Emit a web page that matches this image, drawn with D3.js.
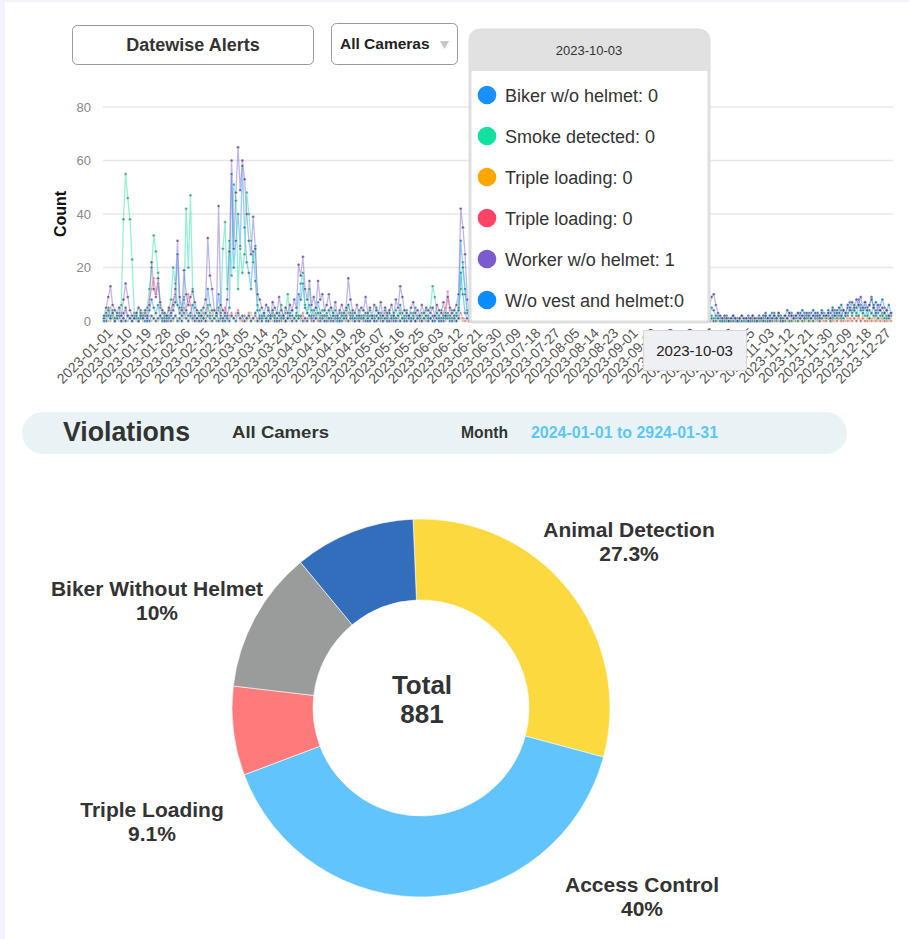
<!DOCTYPE html>
<html>
<head>
<meta charset="utf-8">
<script src="https://cdn.jsdelivr.net/npm/d3@7"></script>
<style>
  body { margin: 0; background: #fff; font-family: "Liberation Sans", Arial, sans-serif; }
</style>
</head>
<body>
<div id="chart"></div>
<script>
var width = 909;
var height = 939;

// ---- line chart data: one value per day of 2023, grouped by month ----
var seriesNames = ['Biker w/o helmet', 'Smoke detected', 'Triple loading', 'Triple loading', 'Worker w/o helmet', 'W/o vest and helmet'];
var seriesColors = ['#1890ff', '#13dfa0', '#ffa600', '#ff4466', '#7b5ccf', '#0a8cff'];

var biker = [
  [0,2,4,1,3,0,1,2,0,3,5,2,1,0,2,1,0,3,1,2,0,4,8,5,3,6,2,1,0,2,1],
  [2,4,7,25,5,2,8,4,2,3,6,2,1,0,2,1,3,12,6,4,1,2,10,3,1,0,2,5],
  [55,20,30,40,28,58,35,22,18,12,26,15,4,2,1,3,0,2,1,4,2,0,3,1,2,0,1,3,2,1,2],
  [10,8,14,5,3,6,2,4,1,7,3,2,0,2,4,1,0,2,1,0,3,1,2,6,3,1,0,2,1,2],
  [1,3,0,2,1,0,2,1,3,0,1,2,0,1,3,0,2,6,3,1,0,2,1,3,0,1,2,0,1,2,1],
  [1,2,0,3,1,0,2,1,3,2,0,1,2,4,30,20,12,3,1,0,2,1,0,1,2,0,1,0,2,1],
  [0,1,0,2,1,0,1,0,2,1,0,1,0,0,2,1,0,1,0,1,2,0,1,0,1,0,2,1,0,1,0],
  [1,0,1,0,2,0,1,0,1,2,0,1,0,1,0,1,2,0,1,0,1,0,2,1,0,1,0,1,0,2,0],
  [0,1,0,2,1,0,1,0,1,0,2,1,0,1,0,1,0,2,0,1,0,1,0,1,2,0,1,0,1,0],
  [1,0,0,1,2,1,3,2,5,4,2,1,0,1,0,1,0,0,1,0,1,0,0,1,0,1,0,0,1,0,1],
  [1,2,1,0,2,1,3,1,2,0,1,2,1,3,2,1,2,1,3,2,1,2,3,1,2,1,3,2,1,2],
  [2,3,1,2,4,2,3,1,4,2,3,5,3,4,2,6,4,3,5,2,4,3,6,2,3,4,2,3,1,2,3]
];
var smoke = [
  [1,3,5,2,4,1,2,3,6,38,55,46,38,23,3,2,1,4,2,3,5,12,20,32,26,18,5,3,2,1,4],
  [8,20,14,6,3,5,9,42,20,47,12,5,3,2,4,1,3,6,2,4,1,3,5,2,27,37,12,30],
  [17,51,45,12,27,18,25,48,40,30,22,28,6,4,2,3,1,5,2,4,1,3,2,6,1,3,10,2,4,1,3],
  [2,14,18,6,3,12,4,2,5,3,1,4,2,3,1,5,2,4,1,3,2,1,4,6,2,3,1,2,4,1],
  [1,3,2,4,1,2,5,3,1,2,4,1,3,2,1,4,2,3,1,2,4,1,3,2,5,1,2,3,1,4,2],
  [5,13,9,3,2,4,1,3,2,1,4,2,3,5,12,22,10,4,2,1,3,2,1,2,3,1,2,1,3,2],
  [1,0,2,1,0,1,3,1,0,2,1,0,1,2,0,1,0,2,1,0,1,2,1,0,1,0,2,1,0,1,2],
  [0,1,2,0,1,0,1,3,1,0,2,1,0,1,0,2,1,0,1,2,0,1,0,1,2,1,0,1,0,2,1],
  [1,0,1,2,0,1,0,2,1,0,1,0,1,2,0,1,0,1,2,1,0,1,0,2,1,0,1,0,1,0],
  [1,0,0,1,0,2,1,3,2,1,0,1,0,0,1,0,1,0,0,1,0,1,0,0,1,0,0,1,0,1,0],
  [0,1,0,0,1,0,1,0,2,0,1,0,1,0,0,2,1,0,1,0,2,1,0,1,0,2,1,0,1,2],
  [1,2,0,1,3,1,2,4,1,3,2,5,2,4,3,2,5,3,2,4,1,3,2,4,1,2,3,1,2,1,2]
];
var tripleA = [
  [0,1,0,0,2,0,1,0,0,1,0,0,2,0,1,0,0,1,0,0,1,2,0,1,3,0,1,0,0,1,0],
  [1,0,2,1,0,0,1,3,0,1,0,2,0,0,1,0,1,0,0,2,1,0,1,0,0,2,0,1],
  [2,1,3,2,0,1,2,0,1,3,1,0,1,0,0,1,0,2,0,0,1,0,1,0,0,1,0,0,2,0,1],
  [1,0,2,1,0,1,0,0,1,0,2,0,1,0,0,1,0,1,0,0,2,0,1,0,0,1,0,1,0,0],
  [0,1,0,0,1,0,2,0,0,1,0,1,0,0,2,0,1,0,0,1,0,0,1,0,2,0,0,1,0,1,0],
  [1,0,0,2,0,1,0,0,1,0,0,1,0,2,1,0,1,0,0,1,0,0,1,0,0,1,0,0,1,0],
  [0,0,1,0,0,1,0,0,0,1,0,0,1,0,0,0,1,0,0,1,0,0,0,1,0,0,1,0,0,0,1],
  [0,1,0,0,0,1,0,0,1,0,0,0,1,0,0,1,0,0,0,1,0,0,1,0,0,0,1,0,0,1,0],
  [0,0,1,0,0,1,0,0,0,1,0,0,1,0,0,0,1,0,0,1,0,0,0,1,0,0,1,0,0,0],
  [1,0,0,0,1,0,0,1,0,0,0,1,0,0,0,1,0,0,0,1,0,0,0,1,0,0,0,1,0,0,0],
  [0,1,0,0,0,1,0,0,1,0,0,0,1,0,0,1,0,0,0,1,0,0,1,0,0,0,1,0,0,1],
  [0,1,0,1,0,0,2,0,1,0,1,0,2,1,0,1,0,2,0,1,0,1,0,2,0,1,0,0,1,0,1]
];
var tripleB = [
  [1,3,2,5,1,0,2,1,3,0,4,2,1,0,1,2,0,1,3,2,4,8,12,16,10,14,6,3,1,2,0],
  [4,8,10,6,3,2,5,4,10,6,2,1,0,2,1,3,0,5,3,2,1,0,4,2,1,5,3,2],
  [3,1,2,4,1,0,2,1,3,0,1,2,0,1,0,2,1,0,1,3,0,1,2,0,1,0,2,1,0,1,2],
  [2,1,3,0,1,2,0,1,3,0,2,1,0,1,0,2,1,0,1,0,2,1,0,3,1,0,1,0,2,1],
  [0,2,1,0,1,0,2,1,0,1,3,0,1,0,2,1,0,4,1,0,1,2,0,1,0,1,0,2,1,0,1],
  [1,0,2,1,0,1,3,5,11,4,1,0,2,1,3,1,0,1,0,2,1,0,1,0,0,1,0,1,0,0],
  [0,1,0,0,1,0,0,1,0,0,1,0,0,0,1,0,0,1,0,0,1,0,0,1,0,0,0,1,0,0,1],
  [0,0,1,0,0,1,0,0,0,1,0,0,1,0,0,1,0,0,0,1,0,0,1,0,0,1,0,0,0,1,0],
  [1,0,0,1,0,0,0,1,0,0,1,0,0,1,0,0,0,1,0,0,1,0,0,0,1,0,0,1,0,0],
  [0,1,0,0,0,1,0,0,1,0,0,0,1,0,0,0,1,0,0,0,1,0,0,0,1,0,0,0,1,0,0],
  [1,0,0,0,1,0,0,1,0,0,0,1,0,0,1,0,0,0,1,0,0,1,0,0,0,1,0,0,1,0],
  [0,1,0,0,1,0,1,0,0,2,0,1,0,1,0,2,0,1,0,0,1,0,2,0,1,0,1,0,0,1,0]
];
var worker = [
  [2,5,9,13,6,4,3,5,2,8,14,9,4,2,1,3,5,2,1,4,2,6,22,12,9,16,7,4,3,2,5],
  [3,6,12,30,9,4,19,10,6,9,11,7,4,3,2,5,8,31,17,12,4,3,43,6,4,3,8,26],
  [60,27,48,65,49,60,53,40,30,25,39,27,10,8,5,3,6,4,2,7,5,3,9,4,2,5,3,6,4,8,5],
  [21,17,24,12,8,15,6,9,5,15,8,10,4,6,10,5,3,7,2,4,6,3,5,16,8,4,3,6,2,5],
  [4,9,3,5,2,6,4,3,7,2,5,3,4,6,2,8,5,13,9,4,3,2,5,7,3,4,2,6,3,5,4],
  [3,5,2,6,4,3,7,2,9,5,3,4,6,10,42,35,25,8,4,3,5,2,4,6,3,2,5,3,4,2],
  [3,2,4,1,3,5,2,4,3,1,2,4,3,5,2,3,1,4,2,3,5,2,1,3,4,2,3,1,2,4,3],
  [2,3,1,4,2,3,5,2,1,3,2,4,3,1,2,3,4,2,1,3,2,4,1,3,2,5,3,2,1,3,2],
  [2,3,1,4,2,3,2,1,3,2,4,3,1,2,3,2,4,1,3,2,3,1,2,4,2,3,1,2,3,1],
  [2,1,1,2,3,2,4,5,9,10,6,3,2,1,2,1,0,1,2,1,0,1,2,1,1,0,1,2,1,0,1],
  [1,0,2,1,0,1,2,1,3,1,0,2,1,3,2,1,2,3,1,2,1,3,2,1,2,3,2,1,3,2],
  [2,3,1,4,2,3,5,2,4,3,6,4,7,5,8,6,9,5,7,4,6,8,5,3,6,4,5,3,4,2,3]
];
var vest = [
  [1,0,2,1,3,0,1,2,0,1,0,2,1,0,1,3,0,1,2,0,1,0,2,1,0,1,2,0,1,0,2],
  [0,1,2,0,1,0,3,1,0,2,1,0,1,2,0,1,0,2,1,0,1,3,0,1,0,2,1,0],
  [2,1,0,3,1,2,0,1,2,0,1,3,0,1,0,2,1,0,1,2,0,1,0,2,1,0,1,2,0,1,0],
  [1,2,0,1,0,2,1,0,1,3,0,1,2,0,1,0,2,1,0,1,0,2,1,0,1,2,0,1,0,1],
  [2,0,1,0,2,1,0,1,2,0,1,0,3,1,0,1,2,0,1,0,2,1,0,1,0,2,1,0,1,2,0],
  [1,0,2,1,0,1,0,2,1,0,1,2,0,1,18,10,3,1,0,2,1,0,1,0,2,1,0,1,0,1],
  [0,2,1,0,1,0,1,2,0,1,0,1,0,2,1,0,1,0,1,0,2,1,0,1,0,1,2,0,1,0,1],
  [2,0,1,0,1,2,0,1,0,1,0,2,1,0,1,0,1,2,0,1,0,1,0,2,1,0,1,0,1,2,0],
  [1,0,1,2,0,1,0,1,0,2,1,0,1,0,2,1,0,1,0,1,2,0,1,0,1,0,2,1,0,1],
  [0,1,0,1,0,2,1,0,1,0,1,2,1,0,1,2,0,1,2,1,0,1,2,1,0,2,1,2,0,1,2],
  [1,2,3,1,2,3,2,1,3,2,1,2,4,2,3,1,2,3,2,4,3,2,1,3,4,2,3,2,4,3],
  [2,4,3,5,2,4,3,6,4,3,5,7,4,6,5,8,6,4,7,5,6,9,5,7,4,6,8,5,4,6,3]
];
var yTicks = [0, 20, 40, 60, 80];
var tooltipDate = '2023-10-03';

// ---- donut data ----
var sliceNames = ['Animal Detection', 'Access Control', 'Triple Loading', 'Biker Without Helmet', 'Worker Without Helmet'];
var sliceValues = [263, 353, 67, 107, 91];
var sliceLabels = ['27.3%', '40%', '9.1%', '10%', ''];
var sliceColors = ['#fdd940', '#61c4fd', '#ff7b7b', '#9a9b9b', '#336ebd'];
var total = 881;

var parse = d3.timeParse('%Y-%m-%d');
var fmt = d3.timeFormat('%Y-%m-%d');
var start = parse('2023-01-01');
var days = d3.timeDay.range(start, parse('2024-01-01'));

var allSeries = [biker, smoke, tripleA, tripleB, worker, vest].map(function(months) {
  return d3.merge(months);
});

var svg = d3.select('#chart').append('svg')
  .attr('width', width)
  .attr('height', height)
  .style('display', 'block');

// page edge tint
svg.append('rect').attr('width', width).attr('height', height).attr('fill', '#fff');
svg.append('rect').attr('width', 5).attr('height', height).attr('fill', '#f3f3fc');
svg.append('rect').attr('width', width).attr('height', 2).attr('fill', '#f3f3fc');

// ---- header controls ----
svg.append('rect').attr('x', 72.5).attr('y', 25.5).attr('width', 241).attr('height', 39)
  .attr('rx', 5).attr('fill', '#fff').attr('stroke', '#9a9a9a');
svg.append('text').attr('x', 193).attr('y', 51).attr('text-anchor', 'middle')
  .attr('font-size', 18).attr('font-weight', 'bold').attr('fill', '#333').text('Datewise Alerts');

svg.append('rect').attr('x', 331.5).attr('y', 23.5).attr('width', 126).attr('height', 41)
  .attr('rx', 5).attr('fill', '#fff').attr('stroke', '#9a9a9a');
svg.append('text').attr('x', 340).attr('y', 49)
  .attr('font-size', 15.5).attr('font-weight', 'bold').attr('fill', '#222').text('All Cameras');
svg.append('path').attr('d', 'M440,41 L449,41 L444.5,49 Z').attr('fill', '#c8c8c8');

// ---- line chart ----
var x = d3.scaleTime().domain([start, parse('2023-12-31')]).range([104, 891]);
var y = d3.scaleLinear().domain([0, 80]).range([321, 107]);

svg.append('g')
  .selectAll('line')
  .data(yTicks)
  .enter()
  .append('line')
  .attr('x1', 103).attr('x2', 893)
  .attr('y1', function(d) { return y(d); })
  .attr('y2', function(d) { return y(d); })
  .attr('stroke', '#e8e8e8').attr('stroke-width', 1.6);

var yAxis = svg.append('g')
  .attr('transform', 'translate(91,0)')
  .call(d3.axisLeft(y).tickValues(yTicks).tickSize(0).tickPadding(0));
yAxis.select('.domain').remove();
yAxis.selectAll('text').attr('font-size', 13).attr('fill', '#888')
  .attr('font-family', '"Liberation Sans", Arial, sans-serif');

svg.append('text')
  .attr('transform', 'translate(66,214) rotate(-90)')
  .attr('text-anchor', 'middle')
  .attr('font-size', 16).attr('font-weight', 'bold').attr('fill', '#111')
  .text('Count');

var tickDates = days.filter(function(d, i) { return i % 9 === 0; });
var xAxis = svg.append('g')
  .attr('transform', 'translate(2,327)')
  .call(d3.axisBottom(x).tickValues(tickDates).tickFormat(fmt).tickSize(0).tickPadding(0));
xAxis.select('.domain').remove();
xAxis.selectAll('text')
  .attr('font-size', 14).attr('fill', '#555')
  .attr('font-family', '"Liberation Sans", Arial, sans-serif')
  .attr('text-anchor', 'end')
  .attr('dy', '0.7em')
  .attr('transform', 'rotate(-45)');

var line = d3.line()
  .x(function(d, i) { return x(days[i]); })
  .y(function(d) { return y(d); });

var drawOrder = [2, 3, 5, 0, 1, 4];
var dotOpacity = [0.7, 0.7, 0.25, 0.35, 0.75, 0.7];
var plot = svg.append('g');
drawOrder.forEach(function(s) {
  plot.append('path')
    .datum(allSeries[s])
    .attr('d', line)
    .attr('fill', 'none')
    .attr('stroke', seriesColors[s])
    .attr('stroke-opacity', 0.45)
    .attr('stroke-width', 1.3);
});
drawOrder.forEach(function(s) {
  plot.append('g')
    .selectAll('circle')
    .data(allSeries[s])
    .enter()
    .append('circle')
    .attr('cx', function(d, i) { return x(days[i]); })
    .attr('cy', function(d) { return y(d); })
    .attr('r', 1.5)
    .attr('fill', d3.color(seriesColors[s]).darker(1.3))
    .attr('fill-opacity', dotOpacity[s])
    .attr('stroke', '#fff')
    .attr('stroke-width', 0.4);
});

// ---- tooltip ----
var tipIndex = days.findIndex(function(d) { return fmt(d) === tooltipDate; });
var tip = svg.append('g').attr('transform', 'translate(470,30)');
tip.append('path')
  .attr('d', 'M12,0 H227 Q239,0 239,12 V289 Q239,292 236,292 H3 Q0,292 0,289 V12 Q0,0 12,0 Z')
  .attr('fill', '#fff').attr('stroke', '#dedede').attr('stroke-width', 3);
tip.append('path')
  .attr('d', 'M12,0 H227 Q239,0 239,12 V41 H0 V12 Q0,0 12,0 Z')
  .attr('fill', '#e1e1e1');
tip.append('text').attr('x', 119).attr('y', 25).attr('text-anchor', 'middle')
  .attr('font-size', 13).attr('fill', '#333').text(tooltipDate);

var rows = tip.selectAll('g.row')
  .data(seriesNames)
  .enter()
  .append('g')
  .attr('transform', function(d, i) { return 'translate(0,' + (65 + i * 41) + ')'; });
rows.append('circle').attr('cx', 17).attr('cy', 0).attr('r', 9.3)
  .attr('fill', function(d, i) { return seriesColors[i]; });
rows.append('text').attr('x', 35).attr('y', 6.5)
  .attr('font-size', 18).attr('fill', '#333')
  .text(function(d, i) {
    return d + ':' + (i === 5 ? '' : ' ') + allSeries[i][tipIndex];
  });

// axis pointer label
var px = x(days[tipIndex]) - 4;
svg.append('rect').attr('x', px - 51).attr('y', 330.5).attr('width', 103).attr('height', 40)
  .attr('fill', '#eef0f3').attr('stroke', '#d8d8d8');
svg.append('text').attr('x', px).attr('y', 356).attr('text-anchor', 'middle')
  .attr('font-size', 15).attr('fill', '#222').text(tooltipDate);

// ---- violations bar ----
svg.append('rect').attr('x', 22).attr('y', 412).attr('width', 825).attr('height', 42)
  .attr('rx', 21).attr('fill', '#e9f3f5');
svg.append('text').attr('x', 63).attr('y', 441)
  .attr('font-size', 28).attr('font-weight', 'bold').attr('fill', '#333')
  .attr('textLength', 127).attr('lengthAdjust', 'spacingAndGlyphs').text('Violations');
svg.append('text').attr('x', 232).attr('y', 438)
  .attr('font-size', 17).attr('font-weight', 'bold').attr('fill', '#333')
  .attr('textLength', 97).attr('lengthAdjust', 'spacingAndGlyphs').text('All Camers');
svg.append('text').attr('x', 461).attr('y', 438)
  .attr('font-size', 16).attr('font-weight', 'bold').attr('fill', '#333')
  .attr('textLength', 47).attr('lengthAdjust', 'spacingAndGlyphs').text('Month');
svg.append('text').attr('x', 531).attr('y', 438)
  .attr('font-size', 16).attr('font-weight', 'bold').attr('fill', '#5ec6f7')
  .attr('textLength', 187).attr('lengthAdjust', 'spacingAndGlyphs').text('2024-01-01 to 2924-01-31');

// ---- donut ----
var cx = 421, cy = 708;
var startA = -0.042;
var pie = d3.pie().sort(null).startAngle(startA).endAngle(startA + 2 * Math.PI);
var arc = d3.arc().innerRadius(108).outerRadius(189);
var donut = svg.append('g').attr('transform', 'translate(' + cx + ',' + cy + ')');
donut.selectAll('path')
  .data(pie(sliceValues))
  .enter()
  .append('path')
  .attr('d', arc)
  .attr('fill', function(d, i) { return sliceColors[i]; })
  .attr('stroke', '#fff')
  .attr('stroke-width', 0.6);

donut.append('text').attr('x', 1).attr('y', -14).attr('text-anchor', 'middle')
  .attr('font-size', 26).attr('font-weight', 'bold').attr('fill', '#333').text('Total');
donut.append('text').attr('x', 1).attr('y', 15).attr('text-anchor', 'middle')
  .attr('font-size', 26).attr('font-weight', 'bold').attr('fill', '#333').text(total);

// label anchor points (page coords, first-line baseline)
var labelPos = [[629, 537], [642, 892], [152, 817], [157, 596], null];
sliceNames.forEach(function(name, i) {
  if (!labelPos[i]) return;
  var t = svg.append('text')
    .attr('text-anchor', 'middle')
    .attr('font-size', 21).attr('font-weight', 'bold').attr('fill', '#333');
  t.append('tspan').attr('x', labelPos[i][0]).attr('y', labelPos[i][1]).text(name);
  t.append('tspan').attr('x', labelPos[i][0]).attr('y', labelPos[i][1] + 24).text(sliceLabels[i]);
});
</script>
</body>
</html>
